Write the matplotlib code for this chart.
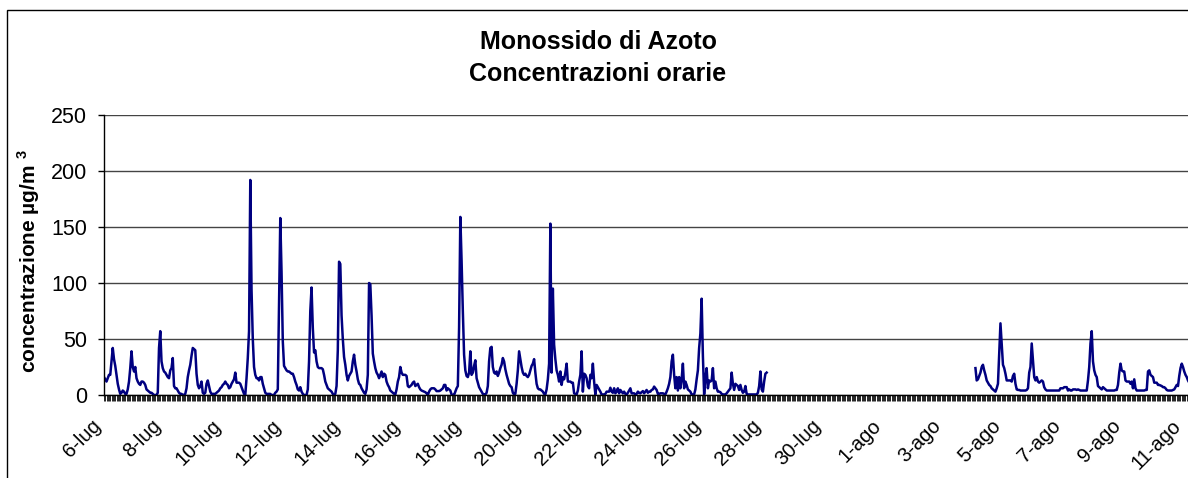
import matplotlib.pyplot as plt
import numpy as np
from matplotlib.ticker import MultipleLocator
from matplotlib.patches import Rectangle
from matplotlib.transforms import ScaledTranslation

plt.rcParams['font.family'] = 'Liberation Sans'
plt.rcParams['mathtext.fontset'] = 'custom'
plt.rcParams['mathtext.rm'] = 'Liberation Sans'
plt.rcParams['mathtext.bf'] = 'Liberation Sans:bold'

# NOTE hourly NO values (ug/m3), one list per day, None = no data
lug06 = [16, 14, 12, 15, 18, 18, 30, 42, 32, 26, 18, 10, 5, 1, 2, 4, 3, 1, 1, 5, 12, 24, 39, 25]
lug07 = [21, 25, 15, 12, 10, 9, 12, 12, 11, 9, 5, 4, 3, 2, 2, 1, 0, 0, 0, 2, 42, 57, 30, 24]
lug08 = [21, 20, 18, 16, 15, 22, 24, 33, 8, 6, 6, 4, 2, 1, 1, 0, 0, 1, 6, 16, 22, 27, 35, 42]
lug09 = [41, 40, 19, 9, 6, 8, 12, 2, 1, 2, 10, 13, 8, 3, 1, 1, 1, 1, 2, 3, 4, 6, 7, 9]
lug10 = [10, 12, 10, 9, 6, 7, 10, 12, 14, 20, 11, 11, 11, 10, 7, 4, 1, 0, 15, 33, 57, 192, 94, 50]
lug11 = [25, 18, 15, 15, 13, 16, 16, 10, 6, 2, 1, 1, 1, 1, 0, 0, 0, 2, 3, 5, 80, 158, 110, 48]
lug12 = [26, 24, 22, 21, 21, 20, 19, 19, 16, 12, 9, 5, 4, 7, 3, 1, 0, 0, 0, 5, 30, 75, 96, 60]
lug13 = [38, 40, 30, 25, 24, 24, 24, 23, 18, 12, 9, 6, 5, 4, 3, 1, 0, 1, 8, 40, 119, 117, 71, 50]
lug14 = [34, 27, 18, 13, 17, 19, 21, 30, 36, 27, 21, 14, 10, 9, 6, 4, 2, 1, 5, 18, 100, 99, 71, 37]
lug15 = [30, 24, 20, 18, 15, 18, 21, 16, 19, 18, 12, 9, 7, 4, 3, 2, 1, 0.5, 5, 12, 16, 25, 20, 18]
lug16 = [18, 18, 17, 8, 7, 8, 9, 11, 12, 8, 9, 10, 7, 5, 4, 3.5, 3, 2.5, 1.5, 0, 3, 5, 6, 6]
lug17 = [6, 5, 3.5, 3.5, 3.5, 4, 5, 6, 9, 9, 4, 6, 5, 4, 0.5, 0, 0, 3, 6, 8, 60, 159, 120, 75]
lug18 = [36, 22, 17, 16, 20, 39, 18, 20, 26, 31, 15, 11, 7, 5, 3, 1, 0.5, 0.5, 2, 8, 30, 42, 43, 25]
lug19 = [20, 19, 21, 17, 20, 24, 27, 33, 30, 23, 18, 14, 10, 8, 7, 2, 0.5, 1, 10, 22, 39, 32, 25, 20]
lug20 = [18, 19, 17, 16, 18, 22, 26, 28, 32, 20, 10, 6, 5, 5, 4, 3, 1, 0.5, 5, 14, 28, 153, 20, 95]
lug21 = [45, 32, 22, 18, 12, 21, 9, 16, 14, 20, 28, 12, 12, 12, 11, 11, 1.5, 1, 0.5, 4, 12, 18, 39, 3]
lug22 = [19, 18, 15, 8, 6, 18, 15, 28, 12, 0.5, 9, 7, 5, 3, 0.5, 0.5, 0.5, 1, 3, 3, 3, 6.5, 3, 2]
lug23 = [6, 1.5, 3, 6, 1.5, 4.5, 3, 1.5, 3, 1, 0.5, 2, 4, 6, 1.5, 1.5, 1.5, 0.5, 1, 3, 2, 1.5, 2.5, 3.5]
lug24 = [1.5, 3, 4.5, 2, 3, 3, 4.5, 5, 7.5, 6, 4.5, 1, 1, 1.5, 1.5, 1.5, 1, 0.5, 3, 6, 10, 16, 30, 36]
lug25 = [18, 6, 16, 4, 16, 6, 14, 28, 6, 12, 9, 5, 4, 3, 0.5, 0.5, 0.5, 5, 14, 22, 42, 55, 86, 35]
lug26 = [0.5, 15, 24, 6, 13, 12, 13, 24, 6, 12, 6, 3, 3, 2.5, 1, 0.5, 0.5, 0.5, 1.5, 3, 4.5, 6, 20, 10]
lug27 = [4.5, 10, 9, 8, 4.5, 9, 4.5, 2, 3, 8, 1, 0.5, 0.5, 0.5, 0.5, 0.5, 0.5, 0.5, 0.5, 2, 8, 21, 5, 3]
lug28 = [12, 19, 20] + [None] * 21
no_data = [None] * 24  # 29-lug ... 3-ago
ago04 = [None, 24, 13, 14, 17, 20, 25, 27, 22, 18, 13, 11, 9, 8, 6, 5, 4, 3, 6, 10, 37, 64, 45, 27]
ago05 = [24, 19, 13, 13, 13, 13, 12, 17, 19, 10, 5, 4.5, 4.5, 4, 4, 4, 4, 4, 4.5, 6, 20, 25, 46, 31]
ago06 = [16, 13, 16, 12, 11, 12, 13, 12, 7, 5, 4, 4, 4, 4, 4, 4, 4, 4, 4, 4, 4, 6, 6, 6]
ago07 = [7, 7, 7, 4, 5, 4, 4, 5, 5, 5, 4.5, 5, 4.5, 4, 4, 4, 4, 4, 4, 13, 25, 46, 57, 30]
ago08 = [22, 18, 16, 8, 7, 6, 5, 7, 6, 5, 4, 4, 4, 4, 4, 4, 4, 4.5, 4.5, 9, 20, 28, 22, 21]
ago09 = [21, 13, 12, 12, 12, 10, 12, 6, 14, 6, 4, 4, 4, 4, 4, 4, 4, 4.5, 4.5, 21, 22, 18, 17, 16]
ago10 = [11, 11, 11, 9, 9, 8.5, 8, 7, 7, 6, 4.5, 4, 4, 4, 4, 4.5, 5, 7, 9, 8, 17, 24, 28, 25]
ago11 = [21, 18, 16, 13, 11, 9, 8] + [None] * 17

days = [lug06, lug07, lug08, lug09, lug10, lug11, lug12, lug13, lug14, lug15,
        lug16, lug17, lug18, lug19, lug20, lug21, lug22, lug23, lug24, lug25,
        lug26, lug27, lug28, no_data, no_data, no_data, no_data, no_data, no_data,
        ago04, ago05, ago06, ago07, ago08, ago09, ago10, ago11]

tick_labels = ['6-lug', '8-lug', '10-lug', '12-lug', '14-lug', '16-lug', '18-lug',
               '20-lug', '22-lug', '24-lug', '26-lug', '28-lug', '30-lug',
               '1-ago', '3-ago', '5-ago', '7-ago', '9-ago', '11-ago']

values = np.array(sum(days, []), dtype=float)
hours = np.arange(len(values))
tick_pos = np.arange(0, len(values), 48)

W, H = 1188, 478
fig = plt.figure(figsize=(W / 100, H / 100), dpi=100)
ax = fig.add_axes([104 / W, 83 / H, 1 - 104 / W, 280 / H])

ax.plot(hours, values, color='#000080', lw=1.8, solid_joinstyle='round')
ax.set_xlim(0, 867)
ax.set_ylim(0, 250)
ax.set_yticks(range(0, 251, 50))
ax.yaxis.grid(True, color='#444444', lw=1)
ax.set_axisbelow(True)

ax.set_xticks(tick_pos)
ax.set_xticklabels([])
ax.xaxis.set_minor_locator(MultipleLocator(1))
ax.tick_params(axis='x', which='both', direction='out', length=4,
               width=0.6, color='black')
ax.tick_params(axis='y', direction='out', length=4, width=1,
               labelsize=15.5, pad=8)

# rotated date labels, end of text slightly left of the tick (Excel style)
shift = ScaledTranslation(-13 / 100, -21 / 100, fig.dpi_scale_trans)
for pos, lab in zip(tick_pos, tick_labels):
    ax.text(pos, 0, lab, transform=ax.get_xaxis_transform() + shift,
            rotation=45, ha='right', va='top', rotation_mode='anchor',
            fontsize=14.5, clip_on=False)

for s in ['top', 'right']:
    ax.spines[s].set_visible(False)
for s in ['left', 'bottom']:
    ax.spines[s].set_color('black')
    ax.spines[s].set_linewidth(1)

# chart area border
fig.add_artist(Rectangle((7 / W, -0.1), 1.5, 1 - 10 / H + 0.1,
                         transform=fig.transFigure, fill=False,
                         ec='black', lw=1))

fig.text(598 / W, 1 - 58 / H, 'Monossido di Azoto\nConcentrazioni orarie',
         ha='center', va='center', fontsize=18, fontweight='bold',
         linespacing=1.38)
fig.text(29 / W, 1 - 261 / H, r'concentrazione µg/m $^{\mathbf{3}}$',
         rotation=90, ha='center', va='center', fontsize=15,
         fontweight='bold')

fig.savefig('out.png', dpi=100)
